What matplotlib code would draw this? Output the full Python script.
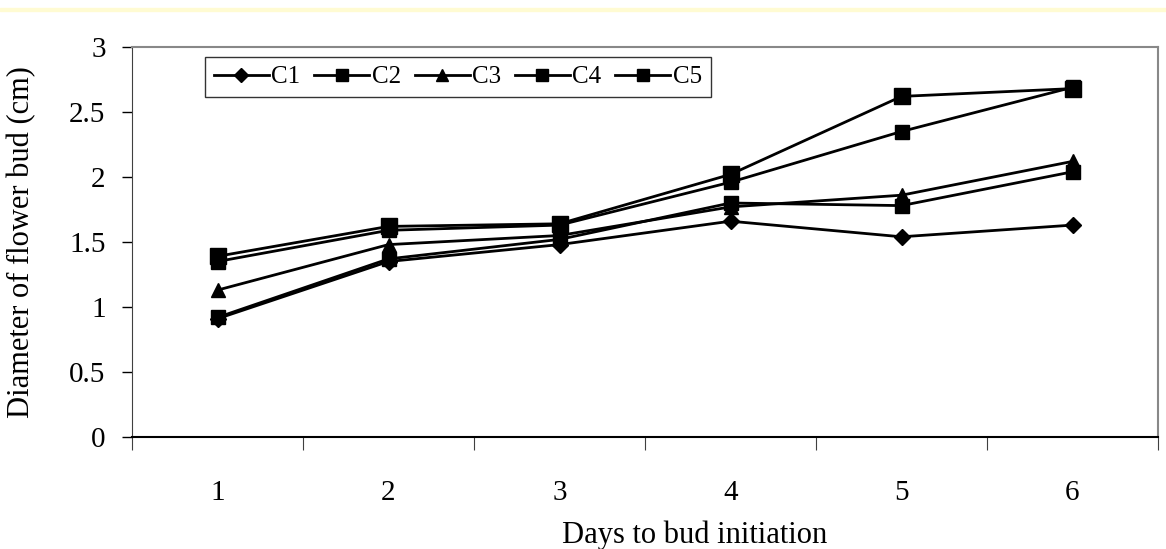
import numpy as np
import matplotlib
matplotlib.use('Agg')
import matplotlib.pyplot as plt
from matplotlib.patches import Rectangle

# data
days = [1, 2, 3, 4, 5, 6]
c1 = [0.91, 1.35, 1.48, 1.66, 1.54, 1.63]
c2 = [1.39, 1.62, 1.64, 2.02, 2.62, 2.68]
c3 = [1.13, 1.48, 1.55, 1.77, 1.86, 2.12]
c4 = [0.92, 1.37, 1.52, 1.80, 1.78, 2.04]
c5 = [1.35, 1.59, 1.63, 1.96, 2.35, 2.69]
names = ['C1', 'C2', 'C3', 'C4', 'C5']
markers = ['D', 's', '^', 's', 's']
msizes = [8.5, 11, 10, 10.5, 10.5]
yticks = [0, 0.5, 1, 1.5, 2, 2.5, 3]
ytick_labels = ['0', '0.5', '1', '1.5', '2', '2.5', '3']

plt.rcParams['font.family'] = ['Liberation Serif', 'DejaVu Serif']

fig = plt.figure(figsize=(11.66, 5.49), dpi=100)
# thin yellow strip on top of the image
fig.patches.append(Rectangle((0, 1 - 11/549), 1, 3/549, transform=fig.transFigure,
                             color='#fffbd2', zorder=0))
ax = fig.add_axes([132/1166, 1 - 437/549, 1026/1166, 390/549])

for vals, nm, mk, ms in zip([c1, c2, c3, c4, c5], names, markers, msizes):
    ax.plot(days, vals, color='black', lw=2, marker=mk, ms=ms, label=nm)

ax.set_xlim(0.5, 6.5)
ax.set_ylim(0, 3)
ax.set_yticks(yticks)
ax.set_yticklabels(ytick_labels)
ax.tick_params(axis='y', direction='out', length=7, width=1, labelsize=21, pad=12)

# category axis: ticks between categories, labels at centres
ax.set_xticks(np.arange(0.5, 7, 1))
ax.set_xticklabels([])
ax.set_xticks(days, minor=True)
ax.set_xticklabels([str(d) for d in days], minor=True)
ax.tick_params(axis='x', which='major', direction='out', length=9, width=0.8, color='#404040')
ax.tick_params(axis='x', which='minor', length=0, labelsize=21, pad=31)

for s in ['top', 'right']:
    ax.spines[s].set_color('#888888')
    ax.spines[s].set_linewidth(1.5)
ax.spines['left'].set_color('#404040')
ax.spines['bottom'].set_color('black')
ax.spines['bottom'].set_linewidth(1.5)

ax.set_xlabel('Days to bud initiation', fontsize=22, va='center')
ax.xaxis.set_label_coords((695 - 132) / 1026, (437 - 535) / 390)
ax.set_ylabel('Diameter of flower bud (cm)', fontsize=22, va='center')
ax.yaxis.set_label_coords((22 - 132) / 1026, 0.5)

leg = ax.legend(loc='upper left', bbox_to_anchor=((205 - 132) / 1026, (437 - 57) / 390),
                borderaxespad=0, ncol=5, fontsize=18, frameon=True, fancybox=False,
                edgecolor='black', handlelength=2.2, handletextpad=0.1, columnspacing=0.55,
                borderpad=0.35, markerscale=0.8)
leg.get_frame().set_linewidth(1.0)

fig.savefig('out.png', dpi=100)
